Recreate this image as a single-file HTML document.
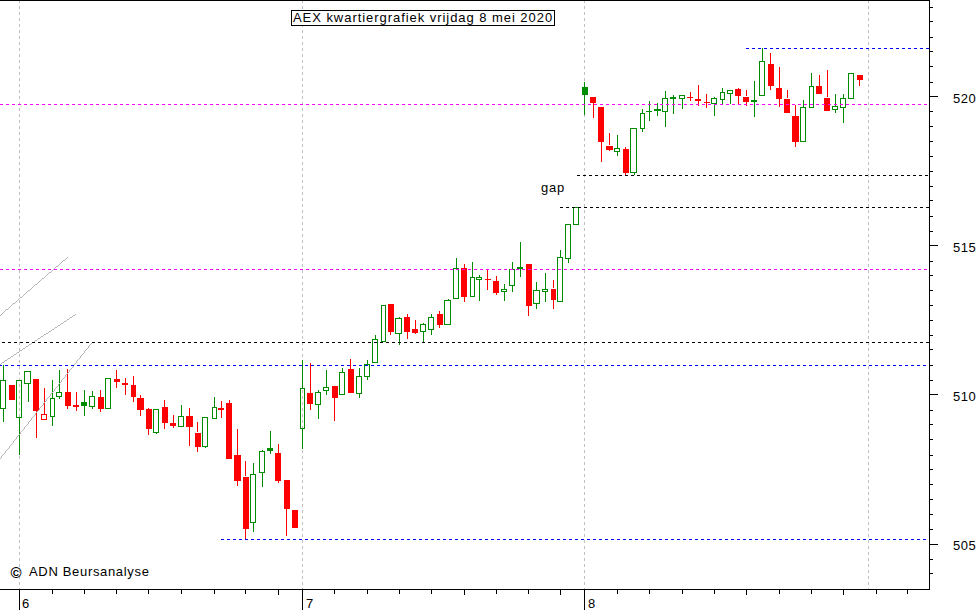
<!DOCTYPE html>
<html><head><meta charset="utf-8"><style>
html,body{margin:0;padding:0;background:#fff;}
#c{position:relative;width:980px;height:610px;overflow:hidden;background:#fff;}
svg{position:absolute;left:0;top:0;}
.t{position:absolute;font-family:"Liberation Sans",sans-serif;color:#000;white-space:nowrap;line-height:1;}
.lab{letter-spacing:0.5px;}
</style></head><body><div id="c">
<svg width="980" height="610" viewBox="0 0 980 610" shape-rendering="crispEdges">
<path d="M19.5 1V3M19.5 6V9M19.5 12V15M19.5 18V21M19.5 24V27M19.5 30V33M19.5 36V39M19.5 42V45M19.5 48V51M19.5 54V57M19.5 60V63M19.5 66V69M19.5 72V75M19.5 78V81M19.5 84V87M19.5 90V93M19.5 96V99M19.5 102V105M19.5 108V111M19.5 114V117M19.5 120V123M19.5 126V129M19.5 132V135M19.5 138V141M19.5 144V147M19.5 150V153M19.5 156V159M19.5 162V165M19.5 168V171M19.5 174V177M19.5 180V183M19.5 186V189M19.5 192V195M19.5 198V201M19.5 204V207M19.5 210V213M19.5 216V219M19.5 222V225M19.5 228V231M19.5 234V237M19.5 240V243M19.5 246V249M19.5 252V255M19.5 258V261M19.5 264V267M19.5 270V273M19.5 276V279M19.5 282V285M19.5 288V291M19.5 294V297M19.5 300V303M19.5 306V309M19.5 312V315M19.5 318V321M19.5 324V327M19.5 330V333M19.5 336V339M19.5 342V345M19.5 348V351M19.5 354V357M19.5 360V363M19.5 366V369M19.5 372V375M19.5 378V381M19.5 384V387M19.5 390V393M19.5 396V399M19.5 402V405M19.5 408V411M19.5 414V417M19.5 420V423M19.5 426V429M19.5 432V435M19.5 438V441M19.5 444V447M19.5 450V453M19.5 456V459M19.5 462V465M19.5 468V471M19.5 474V477M19.5 480V483M19.5 486V489M19.5 492V495M19.5 498V501M19.5 504V507M19.5 510V513M19.5 516V519M19.5 522V525M19.5 528V531M19.5 534V537M19.5 540V543M19.5 546V549M19.5 552V555M19.5 558V561M19.5 564V567M19.5 570V573M19.5 576V579M19.5 582V585M19.5 588V589" stroke="#c0c0c0" stroke-width="1" fill="none"/>
<path d="M302.5 1V3M302.5 6V9M302.5 12V15M302.5 18V21M302.5 24V27M302.5 30V33M302.5 36V39M302.5 42V45M302.5 48V51M302.5 54V57M302.5 60V63M302.5 66V69M302.5 72V75M302.5 78V81M302.5 84V87M302.5 90V93M302.5 96V99M302.5 102V105M302.5 108V111M302.5 114V117M302.5 120V123M302.5 126V129M302.5 132V135M302.5 138V141M302.5 144V147M302.5 150V153M302.5 156V159M302.5 162V165M302.5 168V171M302.5 174V177M302.5 180V183M302.5 186V189M302.5 192V195M302.5 198V201M302.5 204V207M302.5 210V213M302.5 216V219M302.5 222V225M302.5 228V231M302.5 234V237M302.5 240V243M302.5 246V249M302.5 252V255M302.5 258V261M302.5 264V267M302.5 270V273M302.5 276V279M302.5 282V285M302.5 288V291M302.5 294V297M302.5 300V303M302.5 306V309M302.5 312V315M302.5 318V321M302.5 324V327M302.5 330V333M302.5 336V339M302.5 342V345M302.5 348V351M302.5 354V357M302.5 360V363M302.5 366V369M302.5 372V375M302.5 378V381M302.5 384V387M302.5 390V393M302.5 396V399M302.5 402V405M302.5 408V411M302.5 414V417M302.5 420V423M302.5 426V429M302.5 432V435M302.5 438V441M302.5 444V447M302.5 450V453M302.5 456V459M302.5 462V465M302.5 468V471M302.5 474V477M302.5 480V483M302.5 486V489M302.5 492V495M302.5 498V501M302.5 504V507M302.5 510V513M302.5 516V519M302.5 522V525M302.5 528V531M302.5 534V537M302.5 540V543M302.5 546V549M302.5 552V555M302.5 558V561M302.5 564V567M302.5 570V573M302.5 576V579M302.5 582V585M302.5 588V589" stroke="#c0c0c0" stroke-width="1" fill="none"/>
<path d="M584.5 1V3M584.5 6V9M584.5 12V15M584.5 18V21M584.5 24V27M584.5 30V33M584.5 36V39M584.5 42V45M584.5 48V51M584.5 54V57M584.5 60V63M584.5 66V69M584.5 72V75M584.5 78V81M584.5 84V87M584.5 90V93M584.5 96V99M584.5 102V105M584.5 108V111M584.5 114V117M584.5 120V123M584.5 126V129M584.5 132V135M584.5 138V141M584.5 144V147M584.5 150V153M584.5 156V159M584.5 162V165M584.5 168V171M584.5 174V177M584.5 180V183M584.5 186V189M584.5 192V195M584.5 198V201M584.5 204V207M584.5 210V213M584.5 216V219M584.5 222V225M584.5 228V231M584.5 234V237M584.5 240V243M584.5 246V249M584.5 252V255M584.5 258V261M584.5 264V267M584.5 270V273M584.5 276V279M584.5 282V285M584.5 288V291M584.5 294V297M584.5 300V303M584.5 306V309M584.5 312V315M584.5 318V321M584.5 324V327M584.5 330V333M584.5 336V339M584.5 342V345M584.5 348V351M584.5 354V357M584.5 360V363M584.5 366V369M584.5 372V375M584.5 378V381M584.5 384V387M584.5 390V393M584.5 396V399M584.5 402V405M584.5 408V411M584.5 414V417M584.5 420V423M584.5 426V429M584.5 432V435M584.5 438V441M584.5 444V447M584.5 450V453M584.5 456V459M584.5 462V465M584.5 468V471M584.5 474V477M584.5 480V483M584.5 486V489M584.5 492V495M584.5 498V501M584.5 504V507M584.5 510V513M584.5 516V519M584.5 522V525M584.5 528V531M584.5 534V537M584.5 540V543M584.5 546V549M584.5 552V555M584.5 558V561M584.5 564V567M584.5 570V573M584.5 576V579M584.5 582V585M584.5 588V589" stroke="#c0c0c0" stroke-width="1" fill="none"/>
<path d="M868.5 1V3M868.5 6V9M868.5 12V15M868.5 18V21M868.5 24V27M868.5 30V33M868.5 36V39M868.5 42V45M868.5 48V51M868.5 54V57M868.5 60V63M868.5 66V69M868.5 72V75M868.5 78V81M868.5 84V87M868.5 90V93M868.5 96V99M868.5 102V105M868.5 108V111M868.5 114V117M868.5 120V123M868.5 126V129M868.5 132V135M868.5 138V141M868.5 144V147M868.5 150V153M868.5 156V159M868.5 162V165M868.5 168V171M868.5 174V177M868.5 180V183M868.5 186V189M868.5 192V195M868.5 198V201M868.5 204V207M868.5 210V213M868.5 216V219M868.5 222V225M868.5 228V231M868.5 234V237M868.5 240V243M868.5 246V249M868.5 252V255M868.5 258V261M868.5 264V267M868.5 270V273M868.5 276V279M868.5 282V285M868.5 288V291M868.5 294V297M868.5 300V303M868.5 306V309M868.5 312V315M868.5 318V321M868.5 324V327M868.5 330V333M868.5 336V339M868.5 342V345M868.5 348V351M868.5 354V357M868.5 360V363M868.5 366V369M868.5 372V375M868.5 378V381M868.5 384V387M868.5 390V393M868.5 396V399M868.5 402V405M868.5 408V411M868.5 414V417M868.5 420V423M868.5 426V429M868.5 432V435M868.5 438V441M868.5 444V447M868.5 450V453M868.5 456V459M868.5 462V465M868.5 468V471M868.5 474V477M868.5 480V483M868.5 486V489M868.5 492V495M868.5 498V501M868.5 504V507M868.5 510V513M868.5 516V519M868.5 522V525M868.5 528V531M868.5 534V537M868.5 540V543M868.5 546V549M868.5 552V555M868.5 558V561M868.5 564V567M868.5 570V573M868.5 576V579M868.5 582V585M868.5 588V589" stroke="#c0c0c0" stroke-width="1" fill="none"/>
<rect x="3" y="365" width="1" height="15" fill="#008c00"/>
<rect x="3" y="409" width="1" height="13" fill="#008c00"/>
<rect x="0.5" y="380.5" width="5" height="28" fill="none" stroke="#008c00" stroke-width="1"/>
<rect x="9" y="385" width="6" height="15" fill="#ff0000"/>
<rect x="19" y="418" width="1" height="37" fill="#008c00"/>
<rect x="16.5" y="380.5" width="5" height="37" fill="none" stroke="#008c00" stroke-width="1"/>
<rect x="28" y="384" width="1" height="18" fill="#008c00"/>
<rect x="24.5" y="371.5" width="6" height="12" fill="none" stroke="#008c00" stroke-width="1"/>
<rect x="36" y="411" width="1" height="27" fill="#ff0000"/>
<rect x="33" y="379" width="6" height="32" fill="#ff0000"/>
<rect x="44" y="388" width="1" height="26" fill="#ff0000"/>
<rect x="41.5" y="414.5" width="5" height="5" fill="none" stroke="#ff0000" stroke-width="1"/>
<rect x="52" y="380" width="1" height="18" fill="#008c00"/>
<rect x="52" y="417" width="1" height="9" fill="#008c00"/>
<rect x="50.5" y="398.5" width="4" height="18" fill="none" stroke="#008c00" stroke-width="1"/>
<rect x="59" y="370" width="1" height="22" fill="#008c00"/>
<rect x="59" y="397" width="1" height="2" fill="#008c00"/>
<rect x="56.5" y="392.5" width="5" height="4" fill="none" stroke="#008c00" stroke-width="1"/>
<rect x="67" y="369" width="1" height="23" fill="#ff0000"/>
<rect x="67" y="406" width="1" height="3" fill="#ff0000"/>
<rect x="65" y="392" width="6" height="14" fill="#ff0000"/>
<rect x="76" y="392" width="1" height="13" fill="#ff0000"/>
<rect x="76" y="407" width="1" height="4" fill="#ff0000"/>
<rect x="73" y="405" width="6" height="2" fill="#ff0000"/>
<rect x="84" y="390" width="1" height="12" fill="#008c00"/>
<rect x="84" y="406" width="1" height="10" fill="#008c00"/>
<rect x="81" y="402" width="6" height="4" fill="#008c00"/>
<rect x="92" y="391" width="1" height="5" fill="#008c00"/>
<rect x="92" y="407" width="1" height="2" fill="#008c00"/>
<rect x="89.5" y="396.5" width="5" height="10" fill="none" stroke="#008c00" stroke-width="1"/>
<rect x="100" y="390" width="1" height="7" fill="#ff0000"/>
<rect x="100" y="409" width="1" height="3" fill="#ff0000"/>
<rect x="98" y="397" width="6" height="12" fill="#ff0000"/>
<rect x="105.5" y="378.5" width="5" height="30" fill="none" stroke="#008c00" stroke-width="1"/>
<rect x="116" y="370" width="1" height="9" fill="#ff0000"/>
<rect x="116" y="382" width="1" height="6" fill="#ff0000"/>
<rect x="114" y="379" width="6" height="3" fill="#ff0000"/>
<rect x="125" y="378" width="1" height="5" fill="#ff0000"/>
<rect x="125" y="385" width="1" height="10" fill="#ff0000"/>
<rect x="122" y="383" width="6" height="2" fill="#ff0000"/>
<rect x="133" y="376" width="1" height="9" fill="#ff0000"/>
<rect x="133" y="397" width="1" height="5" fill="#ff0000"/>
<rect x="131" y="385" width="5" height="12" fill="#ff0000"/>
<rect x="140" y="395" width="1" height="3" fill="#ff0000"/>
<rect x="140" y="410" width="1" height="6" fill="#ff0000"/>
<rect x="137" y="398" width="7" height="12" fill="#ff0000"/>
<rect x="148" y="408" width="1" height="1" fill="#ff0000"/>
<rect x="148" y="429" width="1" height="6" fill="#ff0000"/>
<rect x="146" y="409" width="6" height="20" fill="#ff0000"/>
<rect x="156" y="433" width="1" height="1" fill="#008c00"/>
<rect x="153.5" y="409.5" width="5" height="23" fill="none" stroke="#008c00" stroke-width="1"/>
<rect x="164" y="400" width="1" height="7" fill="#ff0000"/>
<rect x="164" y="423" width="1" height="6" fill="#ff0000"/>
<rect x="162" y="407" width="6" height="16" fill="#ff0000"/>
<rect x="173" y="415" width="1" height="8" fill="#ff0000"/>
<rect x="173" y="426" width="1" height="2" fill="#ff0000"/>
<rect x="170" y="423" width="6" height="3" fill="#ff0000"/>
<rect x="181" y="405" width="1" height="11" fill="#008c00"/>
<rect x="178.5" y="416.5" width="5" height="10" fill="none" stroke="#008c00" stroke-width="1"/>
<rect x="189" y="408" width="1" height="8" fill="#ff0000"/>
<rect x="189" y="427" width="1" height="19" fill="#ff0000"/>
<rect x="186" y="416" width="7" height="11" fill="#ff0000"/>
<rect x="197" y="422" width="1" height="10" fill="#ff0000"/>
<rect x="197" y="447" width="1" height="5" fill="#ff0000"/>
<rect x="195" y="433" width="6" height="14" fill="#ff0000"/>
<rect x="205" y="447" width="1" height="1" fill="#008c00"/>
<rect x="202.5" y="417.5" width="5" height="29" fill="none" stroke="#008c00" stroke-width="1"/>
<rect x="214" y="397" width="1" height="10" fill="#008c00"/>
<rect x="212.5" y="407.5" width="4" height="11" fill="none" stroke="#008c00" stroke-width="1"/>
<rect x="221" y="401" width="1" height="7" fill="#ff0000"/>
<rect x="221" y="410" width="1" height="8" fill="#ff0000"/>
<rect x="218" y="408" width="6" height="2" fill="#ff0000"/>
<rect x="229" y="400" width="1" height="3" fill="#ff0000"/>
<rect x="226" y="403" width="6" height="56" fill="#ff0000"/>
<rect x="237" y="429" width="1" height="26" fill="#ff0000"/>
<rect x="237" y="481" width="1" height="5" fill="#ff0000"/>
<rect x="234" y="455" width="7" height="26" fill="#ff0000"/>
<rect x="245" y="461" width="1" height="15" fill="#ff0000"/>
<rect x="245" y="529" width="1" height="11" fill="#ff0000"/>
<rect x="243" y="477" width="6" height="52" fill="#ff0000"/>
<rect x="253" y="463" width="1" height="11" fill="#008c00"/>
<rect x="253" y="523" width="1" height="9" fill="#008c00"/>
<rect x="250.5" y="474.5" width="5" height="48" fill="none" stroke="#008c00" stroke-width="1"/>
<rect x="262" y="450" width="1" height="1" fill="#008c00"/>
<rect x="262" y="473" width="1" height="14" fill="#008c00"/>
<rect x="259.5" y="451.5" width="5" height="21" fill="none" stroke="#008c00" stroke-width="1"/>
<rect x="270" y="431" width="1" height="17" fill="#008c00"/>
<rect x="270" y="451" width="1" height="3" fill="#008c00"/>
<rect x="267" y="448" width="6" height="3" fill="#008c00"/>
<rect x="278" y="444" width="1" height="9" fill="#ff0000"/>
<rect x="278" y="481" width="1" height="2" fill="#ff0000"/>
<rect x="275" y="453" width="6" height="28" fill="#ff0000"/>
<rect x="286" y="509" width="1" height="27" fill="#ff0000"/>
<rect x="284" y="480" width="6" height="29" fill="#ff0000"/>
<rect x="292" y="510" width="6" height="18" fill="#ff0000"/>
<rect x="302" y="360" width="1" height="28" fill="#008c00"/>
<rect x="302" y="429" width="1" height="20" fill="#008c00"/>
<rect x="300.5" y="388.5" width="4" height="40" fill="none" stroke="#008c00" stroke-width="1"/>
<rect x="310" y="363" width="1" height="30" fill="#ff0000"/>
<rect x="310" y="404" width="1" height="6" fill="#ff0000"/>
<rect x="307" y="393" width="6" height="11" fill="#ff0000"/>
<rect x="318" y="390" width="1" height="2" fill="#008c00"/>
<rect x="318" y="405" width="1" height="14" fill="#008c00"/>
<rect x="315.5" y="392.5" width="5" height="12" fill="none" stroke="#008c00" stroke-width="1"/>
<rect x="326" y="370" width="1" height="17" fill="#008c00"/>
<rect x="326" y="391" width="1" height="4" fill="#008c00"/>
<rect x="323.5" y="387.5" width="5" height="3" fill="none" stroke="#008c00" stroke-width="1"/>
<rect x="334" y="398" width="1" height="23" fill="#ff0000"/>
<rect x="332" y="386" width="6" height="12" fill="#ff0000"/>
<rect x="342" y="368" width="1" height="4" fill="#008c00"/>
<rect x="339.5" y="372.5" width="5" height="22" fill="none" stroke="#008c00" stroke-width="1"/>
<rect x="350" y="359" width="1" height="10" fill="#ff0000"/>
<rect x="348" y="369" width="6" height="24" fill="#ff0000"/>
<rect x="359" y="368" width="1" height="8" fill="#008c00"/>
<rect x="359" y="394" width="1" height="4" fill="#008c00"/>
<rect x="356.5" y="376.5" width="5" height="17" fill="none" stroke="#008c00" stroke-width="1"/>
<rect x="367" y="360" width="1" height="4" fill="#008c00"/>
<rect x="367" y="377" width="1" height="3" fill="#008c00"/>
<rect x="364.5" y="364.5" width="5" height="12" fill="none" stroke="#008c00" stroke-width="1"/>
<rect x="375" y="335" width="1" height="4" fill="#008c00"/>
<rect x="372.5" y="339.5" width="5" height="23" fill="none" stroke="#008c00" stroke-width="1"/>
<rect x="381.5" y="305.5" width="4" height="36" fill="none" stroke="#008c00" stroke-width="1"/>
<rect x="390" y="332" width="1" height="3" fill="#ff0000"/>
<rect x="388" y="304" width="6" height="28" fill="#ff0000"/>
<rect x="399" y="317" width="1" height="1" fill="#008c00"/>
<rect x="399" y="334" width="1" height="11" fill="#008c00"/>
<rect x="395.5" y="318.5" width="6" height="15" fill="none" stroke="#008c00" stroke-width="1"/>
<rect x="407" y="314" width="1" height="3" fill="#ff0000"/>
<rect x="407" y="332" width="1" height="7" fill="#ff0000"/>
<rect x="404" y="317" width="6" height="15" fill="#ff0000"/>
<rect x="415" y="320" width="1" height="9" fill="#ff0000"/>
<rect x="415" y="333" width="1" height="1" fill="#ff0000"/>
<rect x="412" y="329" width="6" height="4" fill="#ff0000"/>
<rect x="423" y="323" width="1" height="1" fill="#008c00"/>
<rect x="423" y="332" width="1" height="10" fill="#008c00"/>
<rect x="420.5" y="324.5" width="5" height="7" fill="none" stroke="#008c00" stroke-width="1"/>
<rect x="431" y="314" width="1" height="3" fill="#008c00"/>
<rect x="431" y="330" width="1" height="5" fill="#008c00"/>
<rect x="428.5" y="317.5" width="5" height="12" fill="none" stroke="#008c00" stroke-width="1"/>
<rect x="439" y="311" width="1" height="3" fill="#ff0000"/>
<rect x="439" y="325" width="1" height="3" fill="#ff0000"/>
<rect x="437" y="314" width="6" height="11" fill="#ff0000"/>
<rect x="448" y="299" width="1" height="1" fill="#008c00"/>
<rect x="444.5" y="300.5" width="6" height="24" fill="none" stroke="#008c00" stroke-width="1"/>
<rect x="456" y="258" width="1" height="10" fill="#008c00"/>
<rect x="453.5" y="268.5" width="5" height="30" fill="none" stroke="#008c00" stroke-width="1"/>
<rect x="464" y="264" width="1" height="4" fill="#ff0000"/>
<rect x="464" y="297" width="1" height="5" fill="#ff0000"/>
<rect x="461" y="268" width="6" height="29" fill="#ff0000"/>
<rect x="472" y="262" width="1" height="15" fill="#008c00"/>
<rect x="470.5" y="277.5" width="4" height="19" fill="none" stroke="#008c00" stroke-width="1"/>
<rect x="479" y="275" width="1" height="2" fill="#008c00"/>
<rect x="479" y="280" width="1" height="21" fill="#008c00"/>
<rect x="476.5" y="277.5" width="5" height="2" fill="none" stroke="#008c00" stroke-width="1"/>
<rect x="487" y="270" width="1" height="9" fill="#ff0000"/>
<rect x="487" y="280" width="1" height="10" fill="#ff0000"/>
<rect x="485" y="279" width="6" height="1" fill="#ff0000"/>
<rect x="496" y="276" width="1" height="5" fill="#ff0000"/>
<rect x="496" y="293" width="1" height="2" fill="#ff0000"/>
<rect x="493" y="281" width="6" height="12" fill="#ff0000"/>
<rect x="504" y="284" width="1" height="5" fill="#008c00"/>
<rect x="504" y="292" width="1" height="9" fill="#008c00"/>
<rect x="501.5" y="289.5" width="5" height="2" fill="none" stroke="#008c00" stroke-width="1"/>
<rect x="512" y="262" width="1" height="7" fill="#008c00"/>
<rect x="512" y="286" width="1" height="6" fill="#008c00"/>
<rect x="509.5" y="269.5" width="5" height="16" fill="none" stroke="#008c00" stroke-width="1"/>
<rect x="520" y="242" width="1" height="25" fill="#008c00"/>
<rect x="520" y="269" width="1" height="8" fill="#008c00"/>
<rect x="517" y="267" width="6" height="2" fill="#008c00"/>
<rect x="528" y="306" width="1" height="10" fill="#ff0000"/>
<rect x="526" y="264" width="6" height="42" fill="#ff0000"/>
<rect x="536" y="282" width="1" height="8" fill="#008c00"/>
<rect x="536" y="304" width="1" height="5" fill="#008c00"/>
<rect x="533.5" y="290.5" width="6" height="13" fill="none" stroke="#008c00" stroke-width="1"/>
<rect x="545" y="273" width="1" height="16" fill="#008c00"/>
<rect x="545" y="292" width="1" height="10" fill="#008c00"/>
<rect x="542.5" y="289.5" width="5" height="2" fill="none" stroke="#008c00" stroke-width="1"/>
<rect x="553" y="280" width="1" height="8" fill="#ff0000"/>
<rect x="553" y="300" width="1" height="9" fill="#ff0000"/>
<rect x="551" y="289" width="5" height="11" fill="#ff0000"/>
<rect x="560" y="250" width="1" height="7" fill="#008c00"/>
<rect x="557.5" y="257.5" width="5" height="44" fill="none" stroke="#008c00" stroke-width="1"/>
<rect x="568" y="259" width="1" height="4" fill="#008c00"/>
<rect x="565.5" y="224.5" width="5" height="34" fill="none" stroke="#008c00" stroke-width="1"/>
<rect x="573.5" y="207.5" width="5" height="17" fill="none" stroke="#008c00" stroke-width="1"/>
<rect x="584" y="82" width="1" height="5" fill="#008c00"/>
<rect x="584" y="95" width="1" height="20" fill="#008c00"/>
<rect x="582" y="87" width="6" height="8" fill="#008c00"/>
<rect x="593" y="103" width="1" height="15" fill="#ff0000"/>
<rect x="590" y="97" width="6" height="6" fill="#ff0000"/>
<rect x="601" y="142" width="1" height="20" fill="#ff0000"/>
<rect x="598" y="107" width="6" height="35" fill="#ff0000"/>
<rect x="609" y="133" width="1" height="12" fill="#ff0000"/>
<rect x="609" y="150" width="1" height="1" fill="#ff0000"/>
<rect x="606" y="146" width="7" height="4" fill="#ff0000"/>
<rect x="617" y="135" width="1" height="13" fill="#008c00"/>
<rect x="617" y="152" width="1" height="4" fill="#008c00"/>
<rect x="614.5" y="148.5" width="5" height="3" fill="none" stroke="#008c00" stroke-width="1"/>
<rect x="625" y="147" width="1" height="2" fill="#ff0000"/>
<rect x="625" y="173" width="1" height="3" fill="#ff0000"/>
<rect x="623" y="149" width="6" height="24" fill="#ff0000"/>
<rect x="634" y="173" width="1" height="2" fill="#008c00"/>
<rect x="630.5" y="128.5" width="6" height="44" fill="none" stroke="#008c00" stroke-width="1"/>
<rect x="642" y="109" width="1" height="4" fill="#008c00"/>
<rect x="642" y="129" width="1" height="3" fill="#008c00"/>
<rect x="640.5" y="113.5" width="4" height="15" fill="none" stroke="#008c00" stroke-width="1"/>
<rect x="649" y="101" width="1" height="10" fill="#008c00"/>
<rect x="649" y="112" width="1" height="9" fill="#008c00"/>
<rect x="646" y="111" width="6" height="1" fill="#008c00"/>
<rect x="657" y="103" width="1" height="6" fill="#008c00"/>
<rect x="657" y="111" width="1" height="5" fill="#008c00"/>
<rect x="654" y="109" width="7" height="2" fill="#008c00"/>
<rect x="665" y="91" width="1" height="7" fill="#008c00"/>
<rect x="665" y="112" width="1" height="15" fill="#008c00"/>
<rect x="662.5" y="98.5" width="5" height="13" fill="none" stroke="#008c00" stroke-width="1"/>
<rect x="673" y="95" width="1" height="2" fill="#008c00"/>
<rect x="673" y="99" width="1" height="15" fill="#008c00"/>
<rect x="670" y="97" width="6" height="2" fill="#008c00"/>
<rect x="682" y="99" width="1" height="10" fill="#008c00"/>
<rect x="679.5" y="95.5" width="5" height="3" fill="none" stroke="#008c00" stroke-width="1"/>
<rect x="690" y="92" width="1" height="5" fill="#ff0000"/>
<rect x="690" y="98" width="1" height="3" fill="#ff0000"/>
<rect x="687" y="97" width="6" height="1" fill="#ff0000"/>
<rect x="698" y="85" width="1" height="14" fill="#ff0000"/>
<rect x="698" y="101" width="1" height="5" fill="#ff0000"/>
<rect x="695" y="99" width="6" height="2" fill="#ff0000"/>
<rect x="706" y="94" width="1" height="8" fill="#ff0000"/>
<rect x="706" y="103" width="1" height="5" fill="#ff0000"/>
<rect x="704" y="102" width="6" height="1" fill="#ff0000"/>
<rect x="714" y="97" width="1" height="1" fill="#008c00"/>
<rect x="714" y="104" width="1" height="12" fill="#008c00"/>
<rect x="711.5" y="98.5" width="5" height="5" fill="none" stroke="#008c00" stroke-width="1"/>
<rect x="722" y="88" width="1" height="4" fill="#008c00"/>
<rect x="722" y="100" width="1" height="5" fill="#008c00"/>
<rect x="720.5" y="92.5" width="4" height="7" fill="none" stroke="#008c00" stroke-width="1"/>
<rect x="730" y="94" width="1" height="10" fill="#008c00"/>
<rect x="727.5" y="90.5" width="5" height="3" fill="none" stroke="#008c00" stroke-width="1"/>
<rect x="738" y="88" width="1" height="1" fill="#ff0000"/>
<rect x="738" y="96" width="1" height="9" fill="#ff0000"/>
<rect x="735" y="89" width="6" height="7" fill="#ff0000"/>
<rect x="746" y="90" width="1" height="6" fill="#ff0000"/>
<rect x="746" y="102" width="1" height="4" fill="#ff0000"/>
<rect x="743" y="97" width="6" height="5" fill="#ff0000"/>
<rect x="754" y="81" width="1" height="19" fill="#008c00"/>
<rect x="754" y="102" width="1" height="15" fill="#008c00"/>
<rect x="751" y="100" width="6" height="2" fill="#008c00"/>
<rect x="762" y="48" width="1" height="13" fill="#008c00"/>
<rect x="759.5" y="61.5" width="5" height="34" fill="none" stroke="#008c00" stroke-width="1"/>
<rect x="770" y="53" width="1" height="11" fill="#ff0000"/>
<rect x="770" y="86" width="1" height="4" fill="#ff0000"/>
<rect x="768" y="64" width="6" height="22" fill="#ff0000"/>
<rect x="779" y="67" width="1" height="21" fill="#ff0000"/>
<rect x="779" y="99" width="1" height="8" fill="#ff0000"/>
<rect x="776" y="88" width="6" height="11" fill="#ff0000"/>
<rect x="787" y="90" width="1" height="8" fill="#ff0000"/>
<rect x="784" y="99" width="6" height="14" fill="#ff0000"/>
<rect x="795" y="105" width="1" height="11" fill="#ff0000"/>
<rect x="795" y="142" width="1" height="5" fill="#ff0000"/>
<rect x="792" y="116" width="7" height="26" fill="#ff0000"/>
<rect x="803" y="100" width="1" height="7" fill="#008c00"/>
<rect x="800.5" y="107.5" width="5" height="34" fill="none" stroke="#008c00" stroke-width="1"/>
<rect x="811" y="73" width="1" height="13" fill="#008c00"/>
<rect x="809.5" y="86.5" width="4" height="21" fill="none" stroke="#008c00" stroke-width="1"/>
<rect x="819" y="75" width="1" height="11" fill="#ff0000"/>
<rect x="816" y="86" width="6" height="8" fill="#ff0000"/>
<rect x="827" y="70" width="1" height="27" fill="#ff0000"/>
<rect x="824" y="98" width="6" height="13" fill="#ff0000"/>
<rect x="835" y="94" width="1" height="12" fill="#008c00"/>
<rect x="835" y="110" width="1" height="3" fill="#008c00"/>
<rect x="832.5" y="106.5" width="5" height="3" fill="none" stroke="#008c00" stroke-width="1"/>
<rect x="843" y="94" width="1" height="4" fill="#008c00"/>
<rect x="843" y="108" width="1" height="15" fill="#008c00"/>
<rect x="840.5" y="98.5" width="5" height="9" fill="none" stroke="#008c00" stroke-width="1"/>
<rect x="848.5" y="73.5" width="5" height="25" fill="none" stroke="#008c00" stroke-width="1"/>
<rect x="859" y="80" width="1" height="6" fill="#ff0000"/>
<rect x="857" y="75" width="6" height="5" fill="#ff0000"/>
<path d="M0 315h1v1h-1zM0 364h1v1h-1zM0 458h1v1h-1zM1 314h1v1h-1zM1 363h1v1h-1zM1 456h1v1h-1zM1 457h1v1h-1zM2 313h1v1h-1zM2 362h1v1h-1zM2 455h1v1h-1zM3 312h1v1h-1zM3 362h1v1h-1zM3 454h1v1h-1zM4 311h1v1h-1zM4 361h1v1h-1zM4 453h1v1h-1zM5 310h1v1h-1zM5 360h1v1h-1zM5 451h1v1h-1zM5 452h1v1h-1zM6 309h1v1h-1zM6 360h1v1h-1zM6 450h1v1h-1zM7 309h1v1h-1zM7 359h1v1h-1zM7 449h1v1h-1zM8 308h1v1h-1zM8 358h1v1h-1zM8 448h1v1h-1zM9 307h1v1h-1zM9 358h1v1h-1zM9 446h1v1h-1zM9 447h1v1h-1zM10 306h1v1h-1zM10 357h1v1h-1zM10 445h1v1h-1zM11 305h1v1h-1zM11 356h1v1h-1zM11 444h1v1h-1zM12 304h1v1h-1zM12 356h1v1h-1zM12 443h1v1h-1zM13 303h1v1h-1zM13 355h1v1h-1zM13 441h1v1h-1zM13 442h1v1h-1zM14 303h1v1h-1zM14 354h1v1h-1zM14 440h1v1h-1zM15 302h1v1h-1zM15 354h1v1h-1zM15 439h1v1h-1zM16 301h1v1h-1zM16 353h1v1h-1zM16 437h1v1h-1zM16 438h1v1h-1zM17 300h1v1h-1zM17 352h1v1h-1zM17 436h1v1h-1zM18 299h1v1h-1zM18 352h1v1h-1zM18 435h1v1h-1zM19 298h1v1h-1zM19 351h1v1h-1zM19 434h1v1h-1zM20 297h1v1h-1zM20 350h1v1h-1zM20 432h1v1h-1zM20 433h1v1h-1zM21 297h1v1h-1zM21 350h1v1h-1zM21 431h1v1h-1zM22 296h1v1h-1zM22 349h1v1h-1zM22 430h1v1h-1zM23 295h1v1h-1zM23 348h1v1h-1zM23 429h1v1h-1zM24 294h1v1h-1zM24 348h1v1h-1zM24 427h1v1h-1zM24 428h1v1h-1zM25 293h1v1h-1zM25 347h1v1h-1zM25 426h1v1h-1zM26 292h1v1h-1zM26 346h1v1h-1zM26 425h1v1h-1zM27 291h1v1h-1zM27 346h1v1h-1zM27 424h1v1h-1zM28 290h1v1h-1zM28 345h1v1h-1zM28 422h1v1h-1zM28 423h1v1h-1zM29 290h1v1h-1zM29 344h1v1h-1zM29 421h1v1h-1zM30 289h1v1h-1zM30 344h1v1h-1zM30 420h1v1h-1zM31 288h1v1h-1zM31 343h1v1h-1zM31 418h1v1h-1zM31 419h1v1h-1zM32 287h1v1h-1zM32 342h1v1h-1zM32 417h1v1h-1zM33 286h1v1h-1zM33 342h1v1h-1zM33 416h1v1h-1zM34 285h1v1h-1zM34 341h1v1h-1zM34 415h1v1h-1zM35 284h1v1h-1zM35 340h1v1h-1zM35 413h1v1h-1zM35 414h1v1h-1zM36 284h1v1h-1zM36 340h1v1h-1zM36 412h1v1h-1zM37 283h1v1h-1zM37 339h1v1h-1zM37 411h1v1h-1zM38 282h1v1h-1zM38 338h1v1h-1zM38 410h1v1h-1zM39 281h1v1h-1zM39 338h1v1h-1zM39 408h1v1h-1zM39 409h1v1h-1zM40 280h1v1h-1zM40 337h1v1h-1zM40 407h1v1h-1zM41 279h1v1h-1zM41 336h1v1h-1zM41 406h1v1h-1zM42 278h1v1h-1zM42 336h1v1h-1zM42 405h1v1h-1zM43 278h1v1h-1zM43 335h1v1h-1zM43 403h1v1h-1zM43 404h1v1h-1zM44 277h1v1h-1zM44 334h1v1h-1zM44 402h1v1h-1zM45 276h1v1h-1zM45 334h1v1h-1zM45 401h1v1h-1zM46 275h1v1h-1zM46 333h1v1h-1zM46 399h1v1h-1zM46 400h1v1h-1zM47 274h1v1h-1zM47 333h1v1h-1zM47 398h1v1h-1zM48 273h1v1h-1zM48 332h1v1h-1zM48 397h1v1h-1zM49 272h1v1h-1zM49 331h1v1h-1zM49 396h1v1h-1zM50 272h1v1h-1zM50 331h1v1h-1zM50 394h1v1h-1zM50 395h1v1h-1zM51 271h1v1h-1zM51 330h1v1h-1zM51 393h1v1h-1zM52 270h1v1h-1zM52 329h1v1h-1zM52 392h1v1h-1zM53 269h1v1h-1zM53 329h1v1h-1zM53 391h1v1h-1zM54 268h1v1h-1zM54 328h1v1h-1zM54 389h1v1h-1zM54 390h1v1h-1zM55 267h1v1h-1zM55 327h1v1h-1zM55 388h1v1h-1zM56 266h1v1h-1zM56 327h1v1h-1zM56 387h1v1h-1zM57 266h1v1h-1zM57 326h1v1h-1zM57 386h1v1h-1zM58 265h1v1h-1zM58 325h1v1h-1zM58 384h1v1h-1zM58 385h1v1h-1zM59 264h1v1h-1zM59 325h1v1h-1zM59 383h1v1h-1zM60 263h1v1h-1zM60 324h1v1h-1zM60 382h1v1h-1zM61 262h1v1h-1zM61 323h1v1h-1zM61 380h1v1h-1zM61 381h1v1h-1zM62 261h1v1h-1zM62 323h1v1h-1zM62 379h1v1h-1zM63 260h1v1h-1zM63 322h1v1h-1zM63 378h1v1h-1zM64 260h1v1h-1zM64 321h1v1h-1zM64 377h1v1h-1zM65 259h1v1h-1zM65 321h1v1h-1zM65 375h1v1h-1zM65 376h1v1h-1zM66 258h1v1h-1zM66 320h1v1h-1zM66 374h1v1h-1zM67 257h1v1h-1zM67 319h1v1h-1zM67 373h1v1h-1zM68 319h1v1h-1zM68 372h1v1h-1zM69 318h1v1h-1zM69 370h1v1h-1zM69 371h1v1h-1zM70 317h1v1h-1zM70 369h1v1h-1zM71 317h1v1h-1zM71 368h1v1h-1zM72 316h1v1h-1zM72 367h1v1h-1zM73 315h1v1h-1zM73 365h1v1h-1zM73 366h1v1h-1zM74 315h1v1h-1zM74 364h1v1h-1zM75 314h1v1h-1zM75 363h1v1h-1zM76 361h1v1h-1zM76 362h1v1h-1zM77 360h1v1h-1zM78 359h1v1h-1zM79 358h1v1h-1zM80 356h1v1h-1zM80 357h1v1h-1zM81 355h1v1h-1zM82 354h1v1h-1zM83 353h1v1h-1zM84 351h1v1h-1zM84 352h1v1h-1zM85 350h1v1h-1zM86 349h1v1h-1zM87 348h1v1h-1zM88 346h1v1h-1zM88 347h1v1h-1zM89 345h1v1h-1zM90 344h1v1h-1zM91 343h1v1h-1zM92 342h1v1h-1z" fill="#b6b6b6"/>
<path d="M746 48.5H749M752 48.5H755M758 48.5H761M764 48.5H767M770 48.5H773M776 48.5H779M782 48.5H785M788 48.5H791M794 48.5H797M800 48.5H803M806 48.5H809M812 48.5H815M818 48.5H821M824 48.5H827M830 48.5H833M836 48.5H839M842 48.5H845M848 48.5H851M854 48.5H857M860 48.5H863M866 48.5H869M872 48.5H875M878 48.5H881M884 48.5H887M890 48.5H893M896 48.5H899M902 48.5H905M908 48.5H911M914 48.5H917M920 48.5H923M926 48.5H929" stroke="#0000ff" stroke-width="1" fill="none"/>
<path d="M0 104.5H3M6 104.5H9M12 104.5H15M18 104.5H21M24 104.5H27M30 104.5H33M36 104.5H39M42 104.5H45M48 104.5H51M54 104.5H57M60 104.5H63M66 104.5H69M72 104.5H75M78 104.5H81M84 104.5H87M90 104.5H93M96 104.5H99M102 104.5H105M108 104.5H111M114 104.5H117M120 104.5H123M126 104.5H129M132 104.5H135M138 104.5H141M144 104.5H147M150 104.5H153M156 104.5H159M162 104.5H165M168 104.5H171M174 104.5H177M180 104.5H183M186 104.5H189M192 104.5H195M198 104.5H201M204 104.5H207M210 104.5H213M216 104.5H219M222 104.5H225M228 104.5H231M234 104.5H237M240 104.5H243M246 104.5H249M252 104.5H255M258 104.5H261M264 104.5H267M270 104.5H273M276 104.5H279M282 104.5H285M288 104.5H291M294 104.5H297M300 104.5H303M306 104.5H309M312 104.5H315M318 104.5H321M324 104.5H327M330 104.5H333M336 104.5H339M342 104.5H345M348 104.5H351M354 104.5H357M360 104.5H363M366 104.5H369M372 104.5H375M378 104.5H381M384 104.5H387M390 104.5H393M396 104.5H399M402 104.5H405M408 104.5H411M414 104.5H417M420 104.5H423M426 104.5H429M432 104.5H435M438 104.5H441M444 104.5H447M450 104.5H453M456 104.5H459M462 104.5H465M468 104.5H471M474 104.5H477M480 104.5H483M486 104.5H489M492 104.5H495M498 104.5H501M504 104.5H507M510 104.5H513M516 104.5H519M522 104.5H525M528 104.5H531M534 104.5H537M540 104.5H543M546 104.5H549M552 104.5H555M558 104.5H561M564 104.5H567M570 104.5H573M576 104.5H579M582 104.5H585M588 104.5H591M594 104.5H597M600 104.5H603M606 104.5H609M612 104.5H615M618 104.5H621M624 104.5H627M630 104.5H633M636 104.5H639M642 104.5H645M648 104.5H651M654 104.5H657M660 104.5H663M666 104.5H669M672 104.5H675M678 104.5H681M684 104.5H687M690 104.5H693M696 104.5H699M702 104.5H705M708 104.5H711M714 104.5H717M720 104.5H723M726 104.5H729M732 104.5H735M738 104.5H741M744 104.5H747M750 104.5H753M756 104.5H759M762 104.5H765M768 104.5H771M774 104.5H777M780 104.5H783M786 104.5H789M792 104.5H795M798 104.5H801M804 104.5H807M810 104.5H813M816 104.5H819M822 104.5H825M828 104.5H831M834 104.5H837M840 104.5H843M846 104.5H849M852 104.5H855M858 104.5H861M864 104.5H867M870 104.5H873M876 104.5H879M882 104.5H885M888 104.5H891M894 104.5H897M900 104.5H903M906 104.5H909M912 104.5H915M918 104.5H921M924 104.5H927" stroke="#ff00ff" stroke-width="1" fill="none"/>
<path d="M577 175.5H580M583 175.5H586M589 175.5H592M595 175.5H598M601 175.5H604M607 175.5H610M613 175.5H616M619 175.5H622M625 175.5H628M631 175.5H634M637 175.5H640M643 175.5H646M649 175.5H652M655 175.5H658M661 175.5H664M667 175.5H670M673 175.5H676M679 175.5H682M685 175.5H688M691 175.5H694M697 175.5H700M703 175.5H706M709 175.5H712M715 175.5H718M721 175.5H724M727 175.5H730M733 175.5H736M739 175.5H742M745 175.5H748M751 175.5H754M757 175.5H760M763 175.5H766M769 175.5H772M775 175.5H778M781 175.5H784M787 175.5H790M793 175.5H796M799 175.5H802M805 175.5H808M811 175.5H814M817 175.5H820M823 175.5H826M829 175.5H832M835 175.5H838M841 175.5H844M847 175.5H850M853 175.5H856M859 175.5H862M865 175.5H868M871 175.5H874M877 175.5H880M883 175.5H886M889 175.5H892M895 175.5H898M901 175.5H904M907 175.5H910M913 175.5H916M919 175.5H922M925 175.5H928" stroke="#000000" stroke-width="1" fill="none"/>
<path d="M560 207.5H563M566 207.5H569M572 207.5H575M578 207.5H581M584 207.5H587M590 207.5H593M596 207.5H599M602 207.5H605M608 207.5H611M614 207.5H617M620 207.5H623M626 207.5H629M632 207.5H635M638 207.5H641M644 207.5H647M650 207.5H653M656 207.5H659M662 207.5H665M668 207.5H671M674 207.5H677M680 207.5H683M686 207.5H689M692 207.5H695M698 207.5H701M704 207.5H707M710 207.5H713M716 207.5H719M722 207.5H725M728 207.5H731M734 207.5H737M740 207.5H743M746 207.5H749M752 207.5H755M758 207.5H761M764 207.5H767M770 207.5H773M776 207.5H779M782 207.5H785M788 207.5H791M794 207.5H797M800 207.5H803M806 207.5H809M812 207.5H815M818 207.5H821M824 207.5H827M830 207.5H833M836 207.5H839M842 207.5H845M848 207.5H851M854 207.5H857M860 207.5H863M866 207.5H869M872 207.5H875M878 207.5H881M884 207.5H887M890 207.5H893M896 207.5H899M902 207.5H905M908 207.5H911M914 207.5H917M920 207.5H923M926 207.5H929" stroke="#000000" stroke-width="1" fill="none"/>
<path d="M0 269.5H3M6 269.5H9M12 269.5H15M18 269.5H21M24 269.5H27M30 269.5H33M36 269.5H39M42 269.5H45M48 269.5H51M54 269.5H57M60 269.5H63M66 269.5H69M72 269.5H75M78 269.5H81M84 269.5H87M90 269.5H93M96 269.5H99M102 269.5H105M108 269.5H111M114 269.5H117M120 269.5H123M126 269.5H129M132 269.5H135M138 269.5H141M144 269.5H147M150 269.5H153M156 269.5H159M162 269.5H165M168 269.5H171M174 269.5H177M180 269.5H183M186 269.5H189M192 269.5H195M198 269.5H201M204 269.5H207M210 269.5H213M216 269.5H219M222 269.5H225M228 269.5H231M234 269.5H237M240 269.5H243M246 269.5H249M252 269.5H255M258 269.5H261M264 269.5H267M270 269.5H273M276 269.5H279M282 269.5H285M288 269.5H291M294 269.5H297M300 269.5H303M306 269.5H309M312 269.5H315M318 269.5H321M324 269.5H327M330 269.5H333M336 269.5H339M342 269.5H345M348 269.5H351M354 269.5H357M360 269.5H363M366 269.5H369M372 269.5H375M378 269.5H381M384 269.5H387M390 269.5H393M396 269.5H399M402 269.5H405M408 269.5H411M414 269.5H417M420 269.5H423M426 269.5H429M432 269.5H435M438 269.5H441M444 269.5H447M450 269.5H453M456 269.5H459M462 269.5H465M468 269.5H471M474 269.5H477M480 269.5H483M486 269.5H489M492 269.5H495M498 269.5H501M504 269.5H507M510 269.5H513M516 269.5H519M522 269.5H525M528 269.5H531M534 269.5H537M540 269.5H543M546 269.5H549M552 269.5H555M558 269.5H561M564 269.5H567M570 269.5H573M576 269.5H579M582 269.5H585M588 269.5H591M594 269.5H597M600 269.5H603M606 269.5H609M612 269.5H615M618 269.5H621M624 269.5H627M630 269.5H633M636 269.5H639M642 269.5H645M648 269.5H651M654 269.5H657M660 269.5H663M666 269.5H669M672 269.5H675M678 269.5H681M684 269.5H687M690 269.5H693M696 269.5H699M702 269.5H705M708 269.5H711M714 269.5H717M720 269.5H723M726 269.5H729M732 269.5H735M738 269.5H741M744 269.5H747M750 269.5H753M756 269.5H759M762 269.5H765M768 269.5H771M774 269.5H777M780 269.5H783M786 269.5H789M792 269.5H795M798 269.5H801M804 269.5H807M810 269.5H813M816 269.5H819M822 269.5H825M828 269.5H831M834 269.5H837M840 269.5H843M846 269.5H849M852 269.5H855M858 269.5H861M864 269.5H867M870 269.5H873M876 269.5H879M882 269.5H885M888 269.5H891M894 269.5H897M900 269.5H903M906 269.5H909M912 269.5H915M918 269.5H921M924 269.5H927" stroke="#ff00ff" stroke-width="1" fill="none"/>
<path d="M2 342.5H5M8 342.5H11M14 342.5H17M20 342.5H23M26 342.5H29M32 342.5H35M38 342.5H41M44 342.5H47M50 342.5H53M56 342.5H59M62 342.5H65M68 342.5H71M74 342.5H77M80 342.5H83M86 342.5H89M92 342.5H95M98 342.5H101M104 342.5H107M110 342.5H113M116 342.5H119M122 342.5H125M128 342.5H131M134 342.5H137M140 342.5H143M146 342.5H149M152 342.5H155M158 342.5H161M164 342.5H167M170 342.5H173M176 342.5H179M182 342.5H185M188 342.5H191M194 342.5H197M200 342.5H203M206 342.5H209M212 342.5H215M218 342.5H221M224 342.5H227M230 342.5H233M236 342.5H239M242 342.5H245M248 342.5H251M254 342.5H257M260 342.5H263M266 342.5H269M272 342.5H275M278 342.5H281M284 342.5H287M290 342.5H293M296 342.5H299M302 342.5H305M308 342.5H311M314 342.5H317M320 342.5H323M326 342.5H329M332 342.5H335M338 342.5H341M344 342.5H347M350 342.5H353M356 342.5H359M362 342.5H365M368 342.5H371M374 342.5H377M380 342.5H383M386 342.5H389M392 342.5H395M398 342.5H401M404 342.5H407M410 342.5H413M416 342.5H419M422 342.5H425M428 342.5H431M434 342.5H437M440 342.5H443M446 342.5H449M452 342.5H455M458 342.5H461M464 342.5H467M470 342.5H473M476 342.5H479M482 342.5H485M488 342.5H491M494 342.5H497M500 342.5H503M506 342.5H509M512 342.5H515M518 342.5H521M524 342.5H527M530 342.5H533M536 342.5H539M542 342.5H545M548 342.5H551M554 342.5H557M560 342.5H563M566 342.5H569M572 342.5H575M578 342.5H581M584 342.5H587M590 342.5H593M596 342.5H599M602 342.5H605M608 342.5H611M614 342.5H617M620 342.5H623M626 342.5H629M632 342.5H635M638 342.5H641M644 342.5H647M650 342.5H653M656 342.5H659M662 342.5H665M668 342.5H671M674 342.5H677M680 342.5H683M686 342.5H689M692 342.5H695M698 342.5H701M704 342.5H707M710 342.5H713M716 342.5H719M722 342.5H725M728 342.5H731M734 342.5H737M740 342.5H743M746 342.5H749M752 342.5H755M758 342.5H761M764 342.5H767M770 342.5H773M776 342.5H779M782 342.5H785M788 342.5H791M794 342.5H797M800 342.5H803M806 342.5H809M812 342.5H815M818 342.5H821M824 342.5H827M830 342.5H833M836 342.5H839M842 342.5H845M848 342.5H851M854 342.5H857M860 342.5H863M866 342.5H869M872 342.5H875M878 342.5H881M884 342.5H887M890 342.5H893M896 342.5H899M902 342.5H905M908 342.5H911M914 342.5H917M920 342.5H923M926 342.5H929" stroke="#000000" stroke-width="1" fill="none"/>
<path d="M0 365.5H2M5 365.5H8M11 365.5H14M17 365.5H20M23 365.5H26M29 365.5H32M35 365.5H38M41 365.5H44M47 365.5H50M53 365.5H56M59 365.5H62M65 365.5H68M71 365.5H74M77 365.5H80M83 365.5H86M89 365.5H92M95 365.5H98M101 365.5H104M107 365.5H110M113 365.5H116M119 365.5H122M125 365.5H128M131 365.5H134M137 365.5H140M143 365.5H146M149 365.5H152M155 365.5H158M161 365.5H164M167 365.5H170M173 365.5H176M179 365.5H182M185 365.5H188M191 365.5H194M197 365.5H200M203 365.5H206M209 365.5H212M215 365.5H218M221 365.5H224M227 365.5H230M233 365.5H236M239 365.5H242M245 365.5H248M251 365.5H254M257 365.5H260M263 365.5H266M269 365.5H272M275 365.5H278M281 365.5H284M287 365.5H290M293 365.5H296M299 365.5H302M305 365.5H308M311 365.5H314M317 365.5H320M323 365.5H326M329 365.5H332M335 365.5H338M341 365.5H344M347 365.5H350M353 365.5H356M359 365.5H362M365 365.5H368M371 365.5H374M377 365.5H380M383 365.5H386M389 365.5H392M395 365.5H398M401 365.5H404M407 365.5H410M413 365.5H416M419 365.5H422M425 365.5H428M431 365.5H434M437 365.5H440M443 365.5H446M449 365.5H452M455 365.5H458M461 365.5H464M467 365.5H470M473 365.5H476M479 365.5H482M485 365.5H488M491 365.5H494M497 365.5H500M503 365.5H506M509 365.5H512M515 365.5H518M521 365.5H524M527 365.5H530M533 365.5H536M539 365.5H542M545 365.5H548M551 365.5H554M557 365.5H560M563 365.5H566M569 365.5H572M575 365.5H578M581 365.5H584M587 365.5H590M593 365.5H596M599 365.5H602M605 365.5H608M611 365.5H614M617 365.5H620M623 365.5H626M629 365.5H632M635 365.5H638M641 365.5H644M647 365.5H650M653 365.5H656M659 365.5H662M665 365.5H668M671 365.5H674M677 365.5H680M683 365.5H686M689 365.5H692M695 365.5H698M701 365.5H704M707 365.5H710M713 365.5H716M719 365.5H722M725 365.5H728M731 365.5H734M737 365.5H740M743 365.5H746M749 365.5H752M755 365.5H758M761 365.5H764M767 365.5H770M773 365.5H776M779 365.5H782M785 365.5H788M791 365.5H794M797 365.5H800M803 365.5H806M809 365.5H812M815 365.5H818M821 365.5H824M827 365.5H830M833 365.5H836M839 365.5H842M845 365.5H848M851 365.5H854M857 365.5H860M863 365.5H866M869 365.5H872M875 365.5H878M881 365.5H884M887 365.5H890M893 365.5H896M899 365.5H902M905 365.5H908M911 365.5H914M917 365.5H920M923 365.5H926" stroke="#0000ff" stroke-width="1" fill="none"/>
<path d="M221 539.5H224M227 539.5H230M233 539.5H236M239 539.5H242M245 539.5H248M251 539.5H254M257 539.5H260M263 539.5H266M269 539.5H272M275 539.5H278M281 539.5H284M287 539.5H290M293 539.5H296M299 539.5H302M305 539.5H308M311 539.5H314M317 539.5H320M323 539.5H326M329 539.5H332M335 539.5H338M341 539.5H344M347 539.5H350M353 539.5H356M359 539.5H362M365 539.5H368M371 539.5H374M377 539.5H380M383 539.5H386M389 539.5H392M395 539.5H398M401 539.5H404M407 539.5H410M413 539.5H416M419 539.5H422M425 539.5H428M431 539.5H434M437 539.5H440M443 539.5H446M449 539.5H452M455 539.5H458M461 539.5H464M467 539.5H470M473 539.5H476M479 539.5H482M485 539.5H488M491 539.5H494M497 539.5H500M503 539.5H506M509 539.5H512M515 539.5H518M521 539.5H524M527 539.5H530M533 539.5H536M539 539.5H542M545 539.5H548M551 539.5H554M557 539.5H560M563 539.5H566M569 539.5H572M575 539.5H578M581 539.5H584M587 539.5H590M593 539.5H596M599 539.5H602M605 539.5H608M611 539.5H614M617 539.5H620M623 539.5H626M629 539.5H632M635 539.5H638M641 539.5H644M647 539.5H650M653 539.5H656M659 539.5H662M665 539.5H668M671 539.5H674M677 539.5H680M683 539.5H686M689 539.5H692M695 539.5H698M701 539.5H704M707 539.5H710M713 539.5H716M719 539.5H722M725 539.5H728M731 539.5H734M737 539.5H740M743 539.5H746M749 539.5H752M755 539.5H758M761 539.5H764M767 539.5H770M773 539.5H776M779 539.5H782M785 539.5H788M791 539.5H794M797 539.5H800M803 539.5H806M809 539.5H812M815 539.5H818M821 539.5H824M827 539.5H830M833 539.5H836M839 539.5H842M845 539.5H848M851 539.5H854M857 539.5H860M863 539.5H866M869 539.5H872M875 539.5H878M881 539.5H884M887 539.5H890M893 539.5H896M899 539.5H902M905 539.5H908M911 539.5H914M917 539.5H920M923 539.5H926" stroke="#0000ff" stroke-width="1" fill="none"/>
<rect x="0" y="0" width="930" height="1" fill="#000"/>
<rect x="929" y="0" width="1" height="590" fill="#000"/>
<rect x="0" y="589" width="930" height="1" fill="#000"/>
<rect x="930" y="7" width="3" height="1" fill="#000"/>
<rect x="930" y="21" width="3" height="1" fill="#000"/>
<rect x="930" y="37" width="3" height="1" fill="#000"/>
<rect x="930" y="51" width="3" height="1" fill="#000"/>
<rect x="930" y="66" width="3" height="1" fill="#000"/>
<rect x="930" y="82" width="3" height="1" fill="#000"/>
<rect x="930" y="96" width="8" height="1" fill="#000"/>
<rect x="930" y="111" width="3" height="1" fill="#000"/>
<rect x="930" y="126" width="3" height="1" fill="#000"/>
<rect x="930" y="141" width="3" height="1" fill="#000"/>
<rect x="930" y="156" width="3" height="1" fill="#000"/>
<rect x="930" y="171" width="3" height="1" fill="#000"/>
<rect x="930" y="186" width="3" height="1" fill="#000"/>
<rect x="930" y="200" width="3" height="1" fill="#000"/>
<rect x="930" y="216" width="3" height="1" fill="#000"/>
<rect x="930" y="231" width="3" height="1" fill="#000"/>
<rect x="930" y="245" width="8" height="1" fill="#000"/>
<rect x="930" y="261" width="3" height="1" fill="#000"/>
<rect x="930" y="275" width="3" height="1" fill="#000"/>
<rect x="930" y="290" width="3" height="1" fill="#000"/>
<rect x="930" y="305" width="3" height="1" fill="#000"/>
<rect x="930" y="320" width="3" height="1" fill="#000"/>
<rect x="930" y="335" width="3" height="1" fill="#000"/>
<rect x="930" y="349" width="3" height="1" fill="#000"/>
<rect x="930" y="365" width="3" height="1" fill="#000"/>
<rect x="930" y="380" width="3" height="1" fill="#000"/>
<rect x="930" y="394" width="8" height="1" fill="#000"/>
<rect x="930" y="410" width="3" height="1" fill="#000"/>
<rect x="930" y="424" width="3" height="1" fill="#000"/>
<rect x="930" y="439" width="3" height="1" fill="#000"/>
<rect x="930" y="455" width="3" height="1" fill="#000"/>
<rect x="930" y="469" width="3" height="1" fill="#000"/>
<rect x="930" y="484" width="3" height="1" fill="#000"/>
<rect x="930" y="499" width="3" height="1" fill="#000"/>
<rect x="930" y="514" width="3" height="1" fill="#000"/>
<rect x="930" y="529" width="3" height="1" fill="#000"/>
<rect x="930" y="544" width="8" height="1" fill="#000"/>
<rect x="930" y="559" width="3" height="1" fill="#000"/>
<rect x="930" y="573" width="3" height="1" fill="#000"/>
<rect x="52" y="590" width="1" height="4" fill="#000"/>
<rect x="84" y="590" width="1" height="4" fill="#000"/>
<rect x="116" y="590" width="1" height="4" fill="#000"/>
<rect x="148" y="590" width="1" height="4" fill="#000"/>
<rect x="181" y="590" width="1" height="4" fill="#000"/>
<rect x="214" y="590" width="1" height="4" fill="#000"/>
<rect x="245" y="590" width="1" height="4" fill="#000"/>
<rect x="278" y="590" width="1" height="5" fill="#000"/>
<rect x="334" y="590" width="1" height="4" fill="#000"/>
<rect x="367" y="590" width="1" height="4" fill="#000"/>
<rect x="399" y="590" width="1" height="4" fill="#000"/>
<rect x="431" y="590" width="1" height="4" fill="#000"/>
<rect x="464" y="590" width="1" height="5" fill="#000"/>
<rect x="496" y="590" width="1" height="4" fill="#000"/>
<rect x="528" y="590" width="1" height="4" fill="#000"/>
<rect x="560" y="590" width="1" height="5" fill="#000"/>
<rect x="617" y="590" width="1" height="4" fill="#000"/>
<rect x="649" y="590" width="1" height="4" fill="#000"/>
<rect x="682" y="590" width="1" height="4" fill="#000"/>
<rect x="714" y="590" width="1" height="4" fill="#000"/>
<rect x="746" y="590" width="1" height="5" fill="#000"/>
<rect x="779" y="590" width="1" height="4" fill="#000"/>
<rect x="811" y="590" width="1" height="4" fill="#000"/>
<rect x="843" y="590" width="1" height="5" fill="#000"/>
<rect x="876" y="590" width="1" height="4" fill="#000"/>
<rect x="907" y="590" width="1" height="4" fill="#000"/>
<rect x="19" y="590" width="1" height="20" fill="#000"/>
<rect x="302" y="590" width="1" height="20" fill="#000"/>
<rect x="584" y="590" width="1" height="20" fill="#000"/>
<rect x="291.5" y="10.5" width="263" height="15" fill="#fff" stroke="#000" stroke-width="1"/>
</svg>
<div class="t" id="title" style="left:293px;top:11px;font-size:13px;letter-spacing:0.95px;">AEX kwartiergrafiek vrijdag 8 mei 2020</div>
<div class="t" id="gap" style="left:541px;top:181px;font-size:13px;letter-spacing:0.8px;">gap</div>
<div class="t" id="copyc" style="left:10.5px;top:565px;font-size:15px;font-weight:bold;">&copy;</div>
<div class="t" id="copy" style="left:29px;top:565px;font-size:13px;letter-spacing:0.67px;">ADN Beursanalyse</div>
<div class="t lab" id="l520" style="left:953px;top:92px;font-size:13px;">520</div>
<div class="t lab" id="l515" style="left:953px;top:241px;font-size:13px;">515</div>
<div class="t lab" id="l510" style="left:953px;top:390px;font-size:13px;">510</div>
<div class="t lab" id="l505" style="left:953px;top:539px;font-size:13px;">505</div>
<div class="t" id="d6" style="left:22px;top:597px;font-size:13px;">6</div>
<div class="t" id="d7" style="left:306px;top:597px;font-size:13px;">7</div>
<div class="t" id="d8" style="left:588px;top:597px;font-size:13px;">8</div>
</div></body></html>
